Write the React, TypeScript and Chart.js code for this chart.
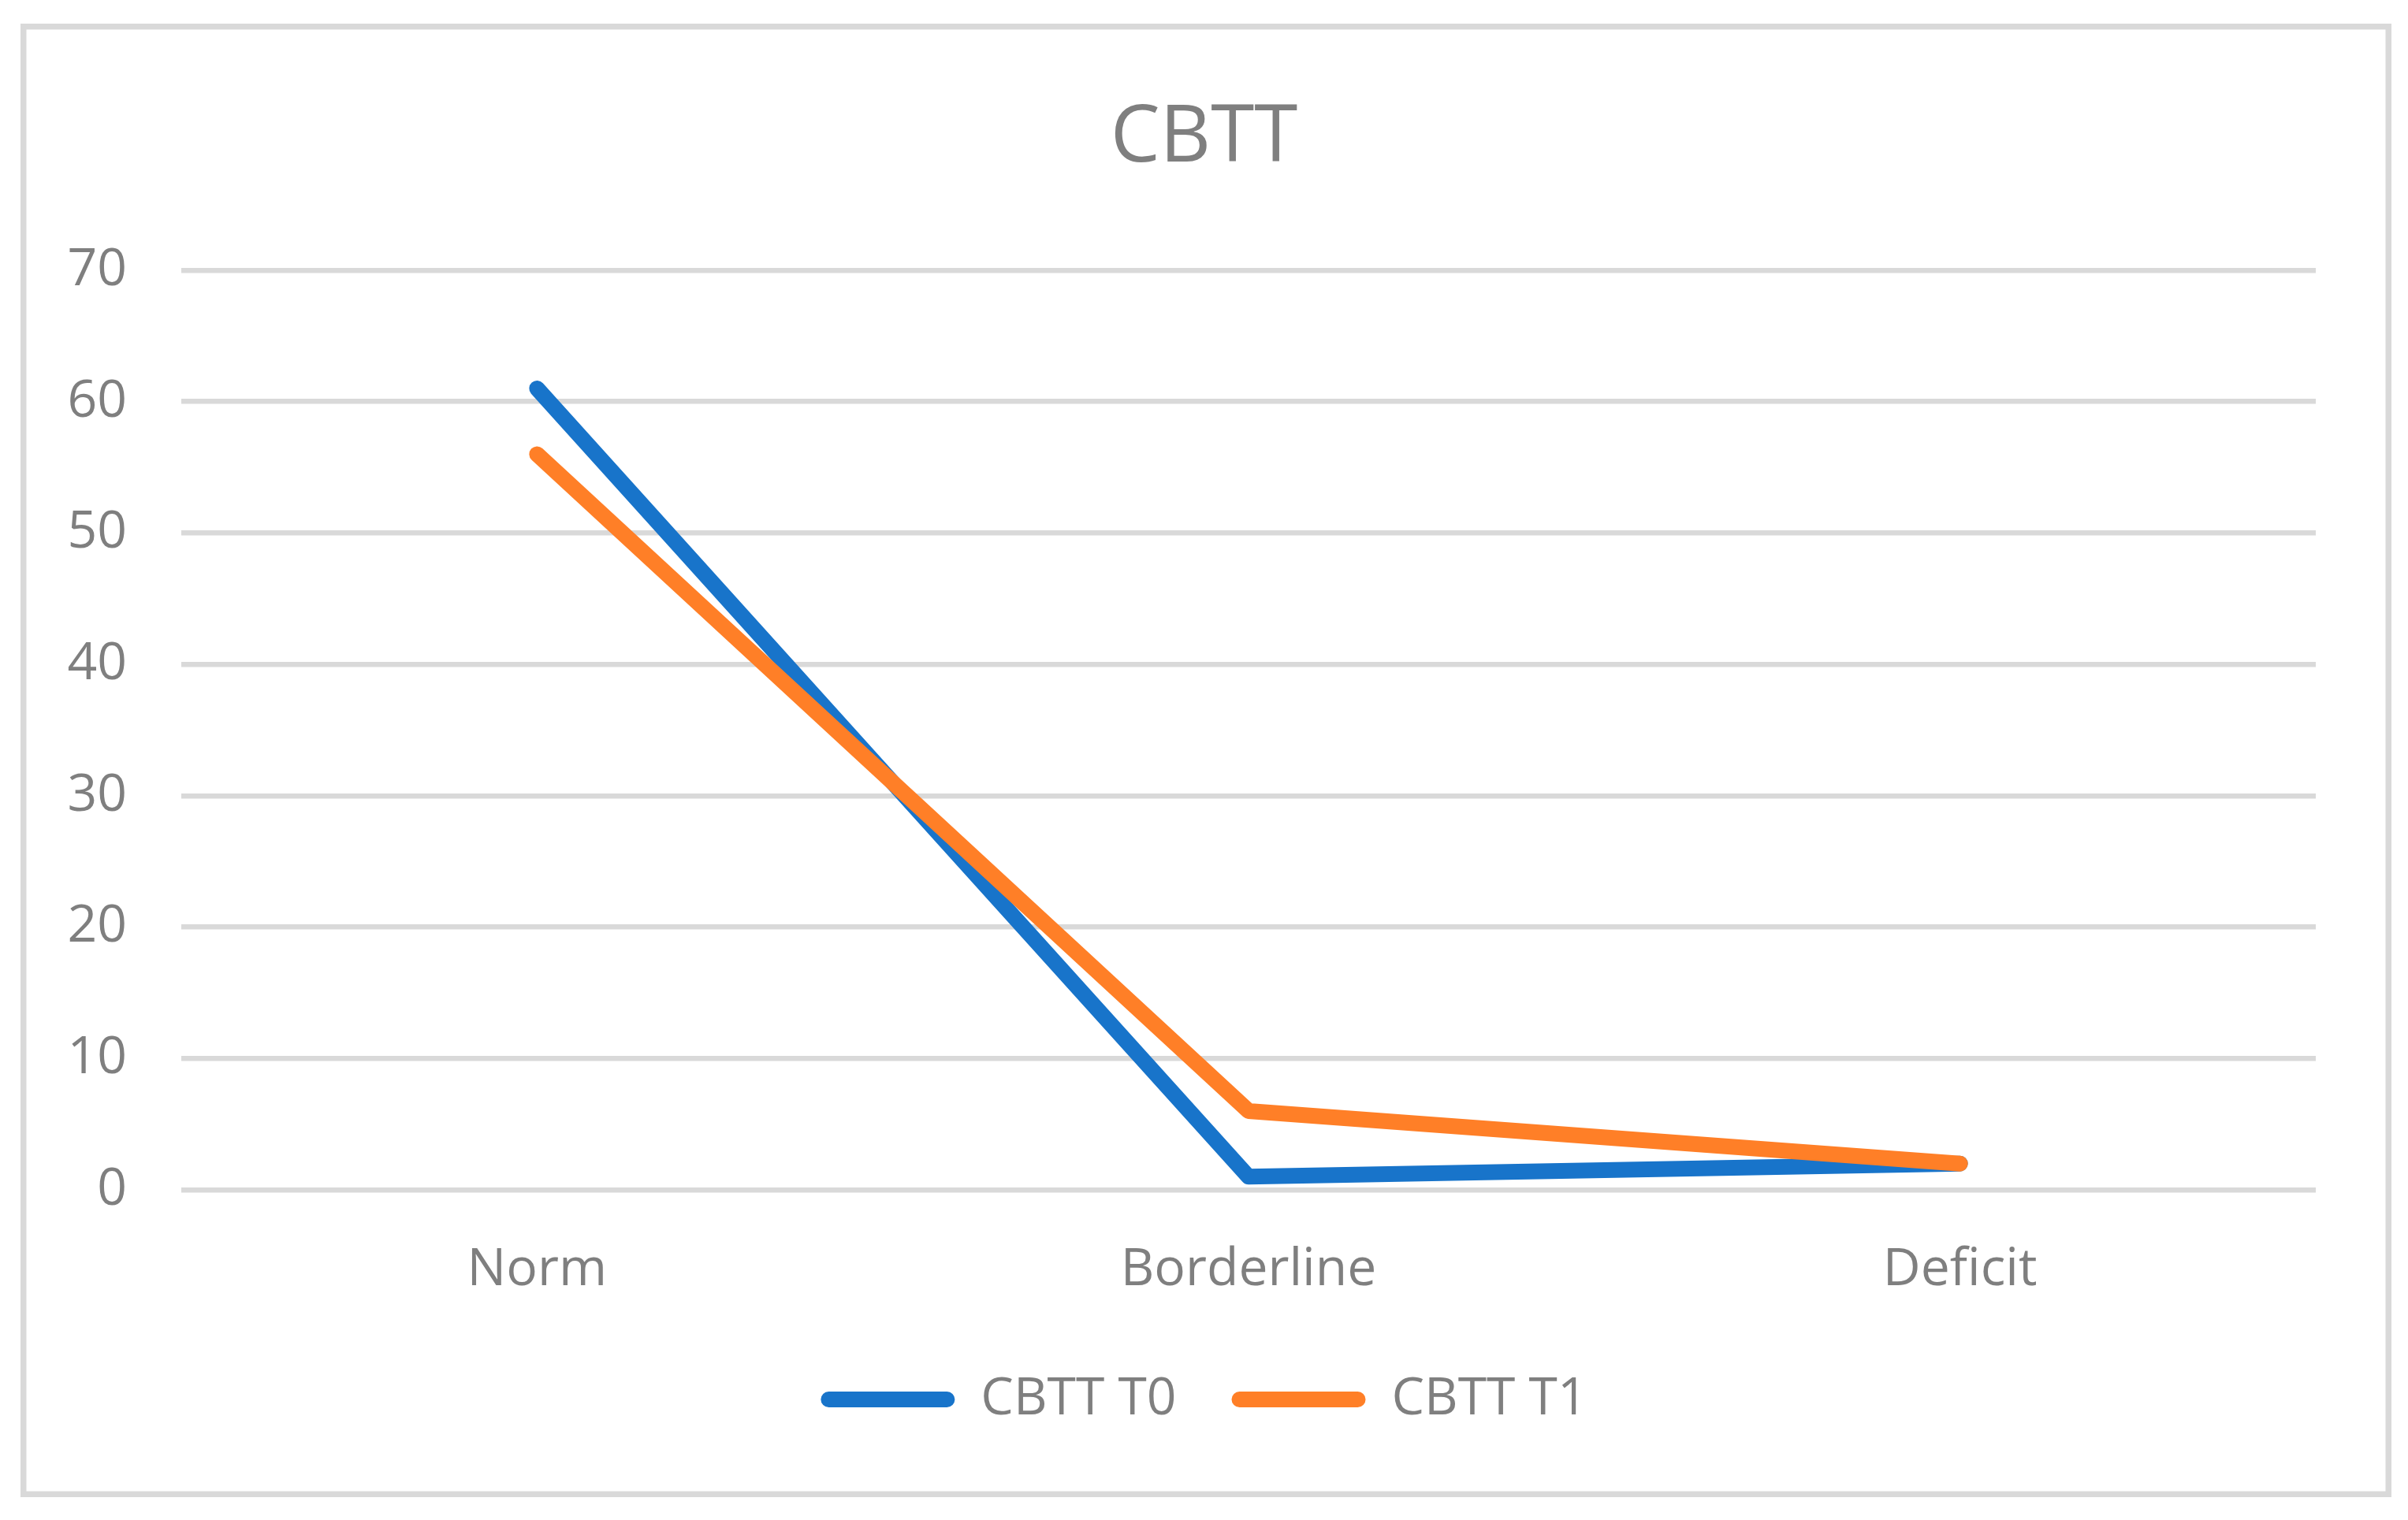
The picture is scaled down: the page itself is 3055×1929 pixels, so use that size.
import React, { useEffect, useRef } from "react";
import { Chart, registerables } from "chart.js";

Chart.register(...registerables);

const categories = ["Norm", "Borderline", "Deficit"];
const seriesNames = ["CBTT T0", "CBTT T1"];
const cbttT0 = [61, 1, 2];
const cbttT1 = [56, 6, 2];
const yTicks = [0, 10, 20, 30, 40, 50, 60, 70];
const chartTitle = "CBTT";

const BLUE = "#1874ca";
const ORANGE = "#ff7f27";
const GRAY_TEXT = "#7f7f7f";
const GRID = "#d9d9d9";
const FONT = "'Open Sans', sans-serif";

const borderPlugin = {
  id: "outerBorder",
  beforeDraw(chart: any) {
    const ctx = chart.ctx;
    ctx.save();
    ctx.fillStyle = "#ffffff";
    ctx.fillRect(0, 0, chart.width, chart.height);
    ctx.strokeStyle = GRID;
    ctx.lineWidth = 7.5;
    ctx.strokeRect(29.75, 33.75, 3000.5, 1862.5);
    ctx.restore();
  },
};

export default function App() {
  const ref = useRef<HTMLCanvasElement | null>(null);

  useEffect(() => {
    if (!ref.current) return;
    const chart = new Chart(ref.current, {
      type: "line",
      data: {
        labels: categories,
        datasets: [
          {
            label: seriesNames[0],
            data: cbttT0,
            borderColor: BLUE,
            backgroundColor: BLUE,
            borderWidth: 20,
            borderCapStyle: "round",
            borderJoinStyle: "round",
            pointRadius: 0,
            pointHoverRadius: 0,
            tension: 0,
            order: 1,
          },
          {
            label: seriesNames[1],
            data: cbttT1,
            borderColor: ORANGE,
            backgroundColor: ORANGE,
            borderWidth: 20,
            borderCapStyle: "round",
            borderJoinStyle: "round",
            pointRadius: 0,
            pointHoverRadius: 0,
            tension: 0,
            order: 0,
          },
        ],
      },
      options: {
        animation: false,
        responsive: true,
        maintainAspectRatio: false,
        layout: { padding: { left: 40, right: 40, top: 40, bottom: 110 } },
        plugins: {
          title: {
            display: true,
            text: chartTitle,
            color: GRAY_TEXT,
            font: { family: FONT, size: 100, weight: "normal", lineHeight: 1 },
            padding: { top: 87, bottom: 116 },
          },
          tooltip: { enabled: false },
          legend: {
            display: true,
            position: "bottom",
            align: "center",
            labels: {
              color: GRAY_TEXT,
              font: { family: FONT, size: 66 },
              boxWidth: 170,
              boxHeight: 20,
              padding: 70,
              generateLabels: (c: any) =>
                c.data.datasets.map((ds: any, i: number) => ({
                  text: ds.label,
                  fillStyle: ds.borderColor,
                  strokeStyle: ds.borderColor,
                  lineWidth: 0,
                  hidden: !c.isDatasetVisible(i),
                  datasetIndex: i,
                  borderRadius: 10,
                  fontColor: GRAY_TEXT,
                })),
            },
          },
        },
        scales: {
          x: {
            offset: true,
            grid: { display: false, drawTicks: false },
            border: { display: false },
            ticks: {
              color: GRAY_TEXT,
              font: { family: FONT, size: 66, lineHeight: 1 },
              padding: 69,
              maxRotation: 0,
            },
            afterFit: (s: any) => {
              s.height = 1743 - 70 - 1510;
            },
          },
          y: {
            min: yTicks[0],
            max: yTicks[yTicks.length - 1],
            afterBuildTicks: (s: any) => {
              s.ticks = yTicks.map((v) => ({ value: v }));
            },
            grid: { color: GRID, lineWidth: 6.5, drawTicks: false },
            border: { display: false },
            ticks: {
              color: GRAY_TEXT,
              font: { family: FONT, size: 66, lineHeight: 1 },
              padding: 69,
              stepSize: 10,
            },
            afterFit: (s: any) => {
              s.width = 230 - 40;
            },
          },
          rightSpace: {
            type: "linear",
            position: "right",
            display: true,
            min: 0,
            max: 1,
            grid: { display: false, drawTicks: false },
            border: { display: false },
            ticks: { display: false },
            afterFit: (s: any) => {
              s.width = 3055 - 40 - 2938;
            },
          },
        },
      },
      plugins: [borderPlugin],
    } as any);
    return () => chart.destroy();
  }, []);

  return (
    <div style={{ position: "fixed", left: 0, top: 0, width: 3055, height: 1929, background: "#fff" }}>
      <canvas ref={ref} />
    </div>
  );
}
